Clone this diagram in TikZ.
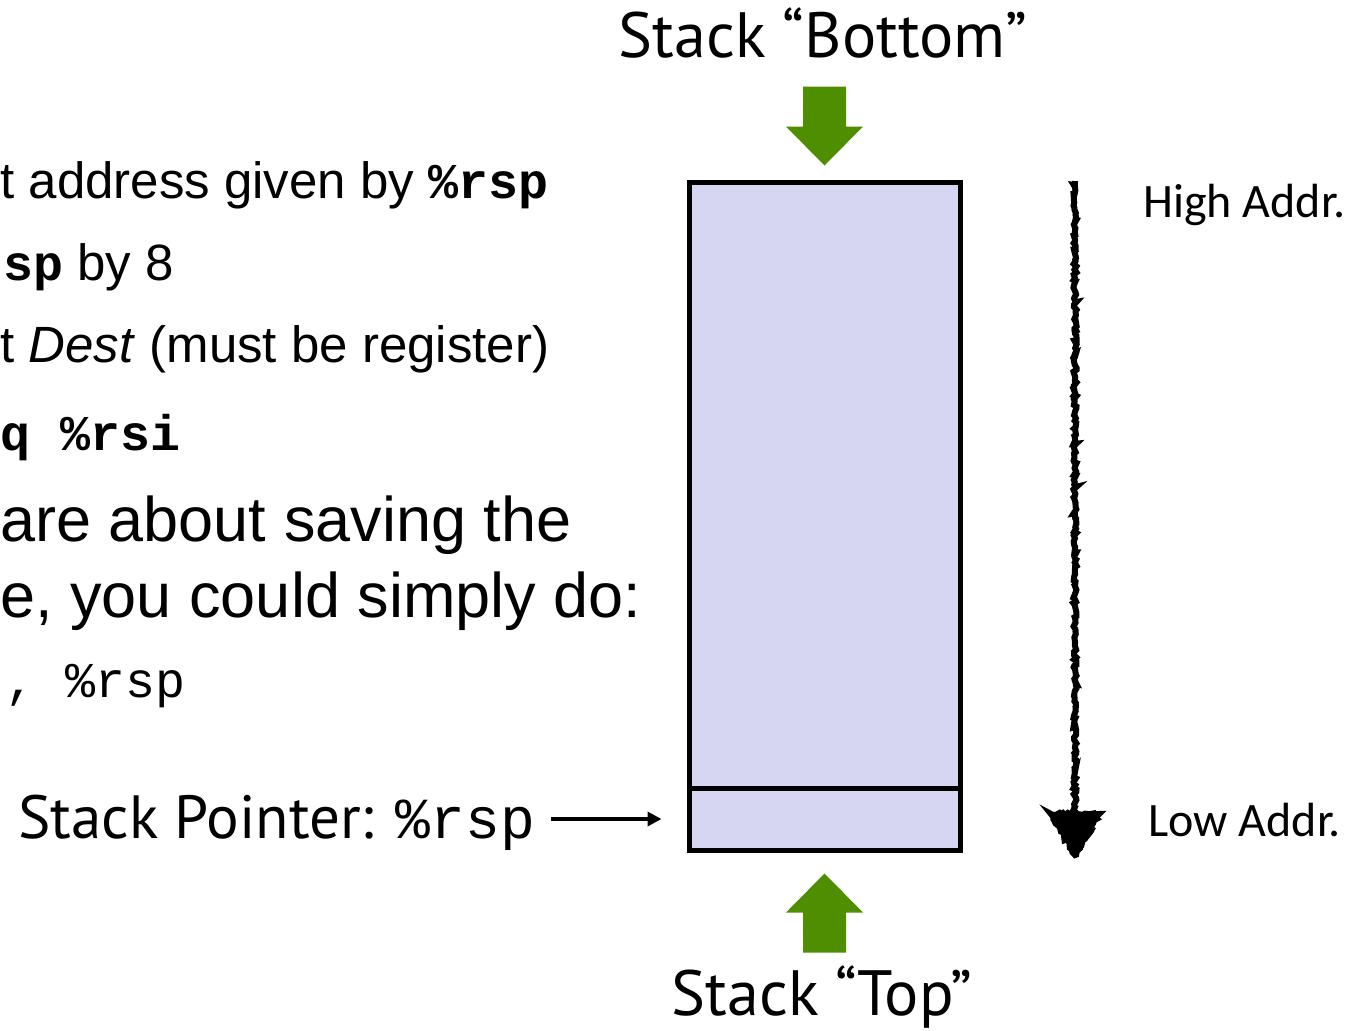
\documentclass[tikz,border=0pt]{standalone}
\usepackage{fontspec}
\setmainfont{Liberation Sans}
\setmonofont{Liberation Mono}
\newfontfamily\gillfont{PT Sans}
\newfontfamily\calfont{Carlito}
\usepackage{xcolor}
\usetikzlibrary{positioning,arrows.meta,decorations.pathmorphing}
\definecolor{stackfill}{RGB}{214,214,243}
\definecolor{pushgreen}{RGB}{78,142,0}

\begin{document}
\begin{tikzpicture}[
  x=0.5pt, y=-0.5pt,
  body/.style={anchor=base west, inner sep=0pt, font=\fontsize{25.5}{30}\selectfont},
  bigbody/.style={body, font=\fontsize{31.5}{37}\selectfont},
  title/.style={inner sep=0pt, font=\gillfont\fontsize{32}{38}\selectfont},
  addr/.style={anchor=base west, inner sep=0pt, font=\calfont\fontsize{24}{28}\selectfont},
  frame/.style={draw, line width=2.5pt, fill=stackfill, minimum width=135.5pt, inner sep=0pt},
  ptr/.style={-{Triangle[length=7pt,width=7pt]}, line width=2pt},
  rough/.style={line width=3pt, decorate, decoration={random steps, segment length=1.2pt, amplitude=0.8pt}}
]
\useasboundingbox (0,0) rectangle (1353,1030);

% Slide text (cut at the left edge)
\node[body] (l1) at (0,198) {t address given by {\ttfamily\bfseries\fontsize{25}{30}\selectfont\%rsp}};
\node[body] (l2) at (3,280) {{\ttfamily\bfseries\fontsize{25}{30}\selectfont sp} by 8};
\node[body] (l3) at (0,362) {t \textit{Dest} (must be register)};
\node[body] (l4) at (0,450) {\ttfamily\bfseries\fontsize{25}{30}\selectfont q \%rsi};
\node[bigbody] (l5) at (0,541) {are about saving the};
\node[bigbody] (l6) at (0,617) {e, you could simply do:};
\node[body] (l7) at (5,697) {\ttfamily\fontsize{25}{30}\selectfont , \%rsp};

% Stack
\node[frame, minimum height=334pt] (stack) at (824.5,516) {};
\node[frame, minimum height=31pt, anchor=south] (slot) at (stack.south) {};

% Bottom and top
\coordinate (btip) at ([yshift=7pt]stack.north);
\coordinate (ttip) at ([yshift=-10.5pt]stack.south);
\fill[pushgreen] (btip) -- ++(-19.25pt,19.5pt) -- ++(8.5pt,0) -- ++(0,20pt) -- ++(21.5pt,0)
  -- ++(0,-20pt) -- ++(8.5pt,0) -- cycle;
\fill[pushgreen] (ttip) -- ++(-19.25pt,-19.5pt) -- ++(8.5pt,0) -- ++(0,-20pt) -- ++(21.5pt,0)
  -- ++(0,20pt) -- ++(8.5pt,0) -- cycle;
\node[title, anchor=base] (bottom) at (823,57) {Stack “Bottom”};
\node[title, anchor=base] (top) at (822,1015) {Stack “Top”};

% Stack pointer
\node[title, anchor=base west, font=\gillfont\fontsize{30.5}{36}\selectfont] (sp) at (18,838)
  {Stack Pointer: {\ttfamily\fontsize{29}{34}\selectfont\%rsp}};
\draw[ptr, shorten <=8pt, shorten >=12.5pt] (sp.east |- slot.west) -- (slot.west);

% Address direction
\node[addr] (high) at (1143,217) {High Addr.};
\node[addr] (low) at (1148,836) {Low Addr.};
\coordinate (hi) at (1075,181);
\coordinate (lo) at (1075,814);
\draw[rough] (hi) -- (lo);
\filldraw[rough] (1075,855) -- (1051,814) -- (1099,814) -- cycle;

\end{tikzpicture}
\end{document}
